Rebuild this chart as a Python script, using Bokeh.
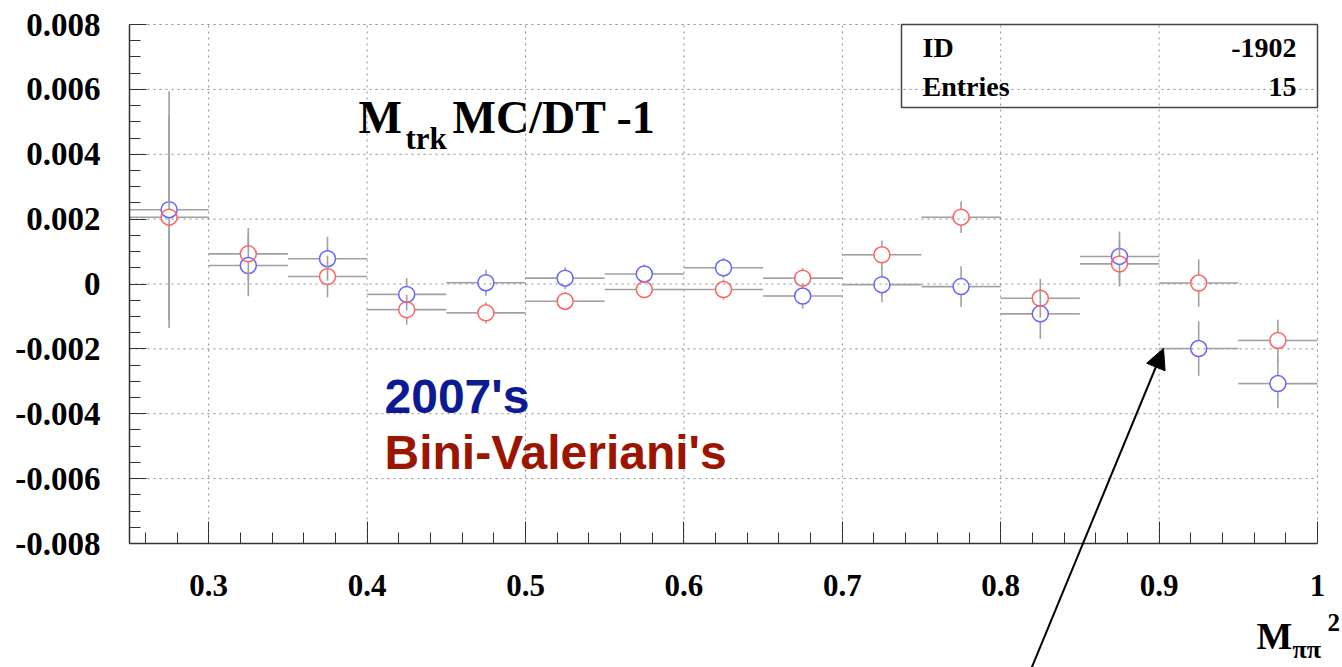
import numpy as np
from bokeh.plotting import figure
from bokeh.models import Range1d, FixedTicker, Label, BoxAnnotation, Arrow, NormalHead
from bokeh.embed import file_html
from bokeh.resources import INLINE

# ---------------- data ----------------
bin_centers = [0.275, 0.325, 0.375, 0.425, 0.475, 0.525, 0.575, 0.625,
               0.675, 0.725, 0.775, 0.825, 0.875, 0.925, 0.975]
bin_half_width = 0.025

vals_2007 = [0.00229, 0.00057, 0.00078, -0.00032, 0.00004, 0.00018, 0.00031, 0.00050,
             -0.00037, -0.00002, -0.00008, -0.00092, 0.00085, -0.00199, -0.00307]
errs_2007 = [0.00365, 0.00095, 0.00068, 0.00050, 0.00040, 0.00034, 0.00029, 0.00031,
             0.00039, 0.00054, 0.00063, 0.00077, 0.00077, 0.00084, 0.00076]

vals_bv = [0.00206, 0.00093, 0.00023, -0.00079, -0.00089, -0.00053, -0.00017, -0.00017,
           0.00018, 0.00090, 0.00206, -0.00044, 0.00062, 0.00003, -0.00174]
errs_bv = [0.00316, 0.00080, 0.00064, 0.00046, 0.00033, 0.00028, 0.00024, 0.00031,
           0.00031, 0.00044, 0.00049, 0.00060, 0.00070, 0.00073, 0.00064]

x_ticks = [0.3, 0.4, 0.5, 0.6, 0.7, 0.8, 0.9, 1]
x_tick_labels = ["0.3", "0.4", "0.5", "0.6", "0.7", "0.8", "0.9", "1"]
y_ticks = [-0.008, -0.006, -0.004, -0.002, 0, 0.002, 0.004, 0.006, 0.008]
y_tick_labels = ["-0.008", "-0.006", "-0.004", "-0.002", "0", "0.002", "0.004", "0.006", "0.008"]

stats_id = "-1902"
stats_entries = "15"

# ---------------- geometry ----------------
W, H = 1342, 667
FL, FR, FT, FB = 129, 1317, 24, 543      # pixel box of the data area
X0, X1 = 0.25, 1.0
Y0, Y1 = -0.008, 0.008
PX_X = (FR - FL) / (X1 - X0)
PX_Y = (FB - FT) / (Y1 - Y0)


def dx(px):
    return X0 + (px - FL) / PX_X


def dy(py):
    return Y1 - (py - FT) / PX_Y


# The frame spans the whole canvas so that texts / the arrow outside the
# data box are not clipped; the axes are pinned to the data box edges.
p = figure(width=W, height=H, x_range=Range1d(dx(0), dx(W)), y_range=Range1d(dy(H), dy(0)),
           output_backend="svg", toolbar_location=None,
           min_border_left=0, min_border_right=0, min_border_top=0, min_border_bottom=0)
p.title.visible = False
p.outline_line_color = None
p.background_fill_color = "white"
p.border_fill_color = "white"
p.grid.visible = False

p.xaxis.fixed_location = Y0
p.yaxis.fixed_location = X0
p.xaxis.bounds = (X0, X1)
p.yaxis.bounds = (Y0, Y1)

# ticks
x_minor = [round(v, 2) for v in np.arange(0.26, 1.0, 0.02) if all(abs(v - t) > 1e-6 for t in x_ticks)]
y_minor = [round(v, 4) for v in np.arange(-0.008, 0.00801, 0.0005) if all(abs(v - t) > 1e-9 for t in y_ticks)]
p.xaxis.ticker = FixedTicker(ticks=x_ticks, minor_ticks=x_minor)
p.yaxis.ticker = FixedTicker(ticks=y_ticks, minor_ticks=y_minor)
p.xaxis.major_label_overrides = dict(zip(x_ticks, x_tick_labels))
p.yaxis.major_label_overrides = dict(zip(y_ticks, y_tick_labels))

for ax in (p.xaxis, p.yaxis):
    ax.axis_line_color = "#333333"
    ax.axis_line_width = 1.5
    ax.major_tick_line_color = "#333333"
    ax.minor_tick_line_color = "#333333"
    ax.major_tick_out = 0
    ax.minor_tick_out = 0
    ax.major_label_text_font = "Liberation Serif"
    ax.major_label_text_font_style = "bold"
    ax.major_label_text_color = "black"
p.xaxis.major_label_text_font_size = "31px"
p.yaxis.major_label_text_font_size = "33px"
p.xaxis.major_tick_in = 22
p.xaxis.minor_tick_in = 11
p.yaxis.major_tick_in = 17
p.yaxis.minor_tick_in = 11
p.xaxis.major_label_standoff = 31
p.yaxis.major_label_standoff = 29

# dotted grid lines at the major ticks, limited to the data box
p.segment(x0=x_ticks, y0=Y0, x1=x_ticks, y1=Y1, line_color="#8a8a8a",
          line_dash="2 4", line_width=1)
p.segment(x0=X0, y0=y_ticks, x1=X1, y1=y_ticks, line_color="#8a8a8a",
          line_dash="2 4", line_width=1)

# ---------------- error bars + markers ----------------
gap_x = 8 / PX_X
gap_y = 8 / PX_Y


def draw_series(vals, errs, color):
    c = np.array(bin_centers)
    v = np.array(vals)
    e = np.array(errs)
    x0 = np.concatenate([c - bin_half_width, c + gap_x])
    x1 = np.concatenate([c - gap_x, c + bin_half_width])
    yy = np.concatenate([v, v])
    p.segment(x0=x0, y0=yy, x1=x1, y1=yy, line_color="#a0a0a0", line_width=1.6)
    m = e > gap_y
    vx = np.concatenate([c[m], c[m]])
    vy0 = np.concatenate([v[m] + gap_y, v[m] - e[m]])
    vy1 = np.concatenate([v[m] + e[m], v[m] - gap_y])
    p.segment(x0=vx, y0=vy0, x1=vx, y1=vy1, line_color="#a0a0a0", line_width=1.6)
    p.scatter(x=c, y=v, marker="circle", size=16, fill_color=None,
              line_color=color, line_width=1.5)


draw_series(vals_2007, errs_2007, "#6464ff")
draw_series(vals_bv, errs_bv, "#ff6262")

# ---------------- texts ----------------
serif = "Liberation Serif"


def lab(text, px, py, size, font=serif, color="black", align="left", style="bold"):
    # px, py: wanted baseline position in canvas pixels (origin top-left);
    # compensate the renderer's baseline offset (about 0.34 em)
    sz = float(size.replace("px", ""))
    p.add_layout(Label(x=px, y=py - 0.34 * sz, x_units="canvas", y_units="canvas", text=text,
                       text_font=font, text_font_style=style,
                       text_font_size=size, text_color=color, text_align=align,
                       text_baseline="alphabetic"))


# title M_trk MC/DT -1
lab("M", 358, 133, "46px")
lab("trk", 405, 149, "31px")
lab("MC/DT -1", 452, 133, "46px")

# legend-like texts
lab("2007's", 384, 412, "48px", font="Liberation Sans", color="#0c1a94")
lab("Bini-Valeriani's", 384, 468, "48px", font="Liberation Sans", color="#9b1500")

# x-axis title M_pipi^2
lab("M", 1256, 648, "38px")
lab("ππ", 1292, 658, "26px")
lab("2", 1327, 630, "25px")

# stats box
p.add_layout(BoxAnnotation(left=dx(901), right=dx(1317), top=dy(24), bottom=dy(107),
                           fill_alpha=0, line_color="#444444", line_alpha=1, line_width=1.5))
lab("ID", 922, 57, "28px")
lab(stats_id, 1296, 57, "28px", align="right")
lab("Entries", 922, 96, "28px")
lab(stats_entries, 1296, 96, "28px", align="right")

# arrow
p.add_layout(Arrow(end=NormalHead(size=20, fill_color="black", line_color="black"),
                   start_units="canvas", end_units="canvas",
                   x_start=1030, y_start=670, x_end=1163, y_end=348,
                   line_color="black", line_width=2))

open("out.html", "w").write(file_html(p, INLINE))
